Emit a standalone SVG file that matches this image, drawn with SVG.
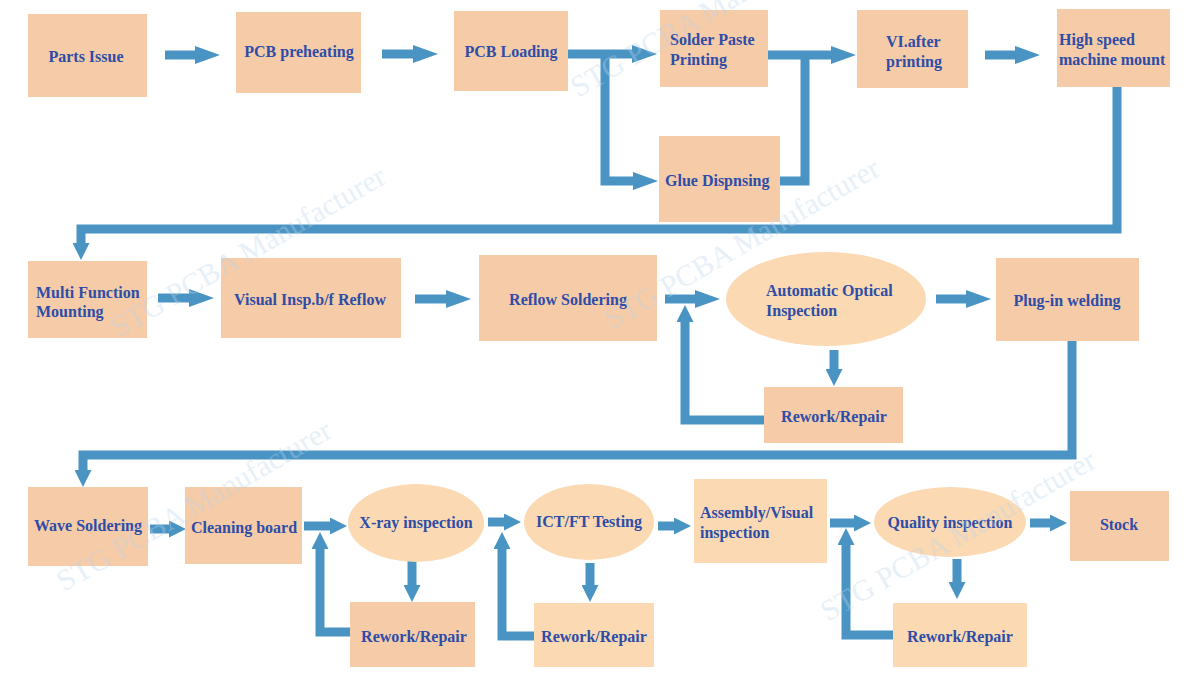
<svg xmlns="http://www.w3.org/2000/svg" width="1200" height="680" viewBox="0 0 1200 680">
<style>
.n{fill:#F6CBA7}
.l{fill:#FAD9B3}
.t{font-family:"Liberation Serif","Times New Roman",serif;font-weight:bold;font-size:16px;fill:#2E4DA7}
.m{text-anchor:middle}
.c{fill:none;stroke:#4A94C4;stroke-width:9;stroke-linejoin:miter}
.w{font-family:"Liberation Serif","Times New Roman",serif;font-size:30px;fill:#BCD6EC;opacity:0.35}
</style>
<defs>
<marker id="a" markerUnits="userSpaceOnUse" markerWidth="25" markerHeight="18" viewBox="0 0 25 18" refX="1" refY="9" orient="auto"><path d="M0,0 L25,9 L0,18 z" fill="#4A94C4"/></marker>
<marker id="b" markerUnits="userSpaceOnUse" markerWidth="17" markerHeight="17" viewBox="0 0 17 17" refX="1" refY="8.5" orient="auto"><path d="M0,0 L17,8.5 L0,17 z" fill="#4A94C4"/></marker>
</defs>
<rect width="1200" height="680" fill="#FFFFFF"/>
<g id="connectors">
<path class="c" d="M165,55 H196" marker-end="url(#a)"/>
<path class="c" d="M382,54 H414" marker-end="url(#a)"/>
<path class="c" d="M568,54 H633" marker-end="url(#a)"/>
<path class="c" d="M605,54 V181 H634" marker-end="url(#a)"/>
<path class="c" d="M768,55 H832" marker-end="url(#a)"/>
<path class="c" d="M780,181 H805 V55"/>
<path class="c" d="M985,55 H1016" marker-end="url(#a)"/>
<path class="c" d="M1117,87 V229 H81 V244" marker-end="url(#b)"/>
<path class="c" d="M158,298 H190" marker-end="url(#a)"/>
<path class="c" d="M415,299 H447" marker-end="url(#a)"/>
<path class="c" d="M665,299 H696" marker-end="url(#a)"/>
<path class="c" d="M764,420 H685 V321" marker-end="url(#b)"/>
<path class="c" d="M834,350 V370" marker-end="url(#b)"/>
<path class="c" d="M936,299 H967" marker-end="url(#a)"/>
<path class="c" d="M1072,341 V455 H83 V471" marker-end="url(#b)"/>
<path class="c" d="M150,529 H170" marker-end="url(#b)"/>
<path class="c" d="M304,526 H331" marker-end="url(#b)"/>
<path class="c" d="M350,632 H320 V548" marker-end="url(#b)"/>
<path class="c" d="M412,560 V586" marker-end="url(#b)"/>
<path class="c" d="M488,522 H505" marker-end="url(#b)"/>
<path class="c" d="M534,636 H502 V548" marker-end="url(#b)"/>
<path class="c" d="M590,563 V586" marker-end="url(#b)"/>
<path class="c" d="M658,526 H675" marker-end="url(#b)"/>
<path class="c" d="M830,523 H855" marker-end="url(#b)"/>
<path class="c" d="M893,635 H846 V544" marker-end="url(#b)"/>
<path class="c" d="M957,559 V583" marker-end="url(#b)"/>
<path class="c" d="M1030,523 H1051" marker-end="url(#b)"/>
</g>
<g id="parts-issue"><rect class="n" x="28" y="14" width="119" height="83"/><text class="t m" x="86" y="62">Parts Issue</text></g>
<g id="pcb-preheating"><rect class="n" x="236" y="12" width="125" height="81"/><text class="t m" x="299" y="57">PCB preheating</text></g>
<g id="pcb-loading"><rect class="n" x="454" y="11" width="114" height="80"/><text class="t m" x="511" y="57">PCB Loading</text></g>
<g id="solder-paste"><rect class="n" x="660" y="10" width="108" height="77"/><text class="t" x="670" y="45">Solder Paste</text><text class="t" x="670" y="65">Printing</text></g>
<g id="glue"><rect class="n" x="659" y="136" width="121" height="86"/><text class="t" x="665" y="186">Glue Dispnsing</text></g>
<g id="vi-after"><rect class="n" x="857" y="10" width="111" height="78"/><text class="t" x="886" y="47">VI.after</text><text class="t" x="886" y="67">printing</text></g>
<g id="high-speed"><rect class="n" x="1057" y="9" width="113" height="78"/><text class="t" x="1059" y="45">High speed</text><text class="t" x="1059" y="65">machine mount</text></g>
<g id="multi-function"><rect class="n" x="28" y="261" width="119" height="77"/><text class="t" x="36" y="298">Multi Function</text><text class="t" x="36" y="317">Mounting</text></g>
<g id="visual-insp"><rect class="n" x="221" y="258" width="180" height="80"/><text class="t m" x="310" y="305">Visual Insp.b/f Reflow</text></g>
<g id="reflow"><rect class="n" x="479" y="255" width="178" height="86"/><text class="t m" x="568" y="305">Reflow Soldering</text></g>
<g id="aoi"><ellipse class="l" cx="826" cy="299" rx="100" ry="47"/><text class="t" x="766" y="296">Automatic Optical</text><text class="t" x="766" y="316">Inspection</text></g>
<g id="rework-1"><rect class="n" x="764" y="387" width="139" height="56"/><text class="t m" x="834" y="422">Rework/Repair</text></g>
<g id="plug-in"><rect class="n" x="996" y="258" width="143" height="83"/><text class="t m" x="1067" y="306">Plug-in welding</text></g>
<g id="wave"><rect class="n" x="28" y="487" width="120" height="79"/><text class="t m" x="88" y="531">Wave Soldering</text></g>
<g id="cleaning"><rect class="n" x="185" y="487" width="117" height="77"/><text class="t m" x="244" y="533">Cleaning board</text></g>
<g id="xray"><ellipse class="l" cx="416" cy="523" rx="68" ry="39"/><text class="t m" x="416" y="528">X-ray inspection</text></g>
<g id="rework-2"><rect class="n" x="350" y="602" width="125" height="65"/><text class="t m" x="414" y="642">Rework/Repair</text></g>
<g id="ict"><ellipse class="l" cx="589" cy="522" rx="65" ry="38"/><text class="t m" x="589" y="527">ICT/FT Testing</text></g>
<g id="rework-3"><rect class="l" x="534" y="603" width="120" height="64"/><text class="t m" x="594" y="642">Rework/Repair</text></g>
<g id="assembly"><rect class="l" x="694" y="479" width="133" height="84"/><text class="t" x="700" y="518">Assembly/Visual</text><text class="t" x="700" y="538">inspection</text></g>
<g id="quality"><ellipse class="l" cx="950" cy="522" rx="76" ry="35"/><text class="t m" x="950" y="528">Quality inspection</text></g>
<g id="rework-4"><rect class="l" x="893" y="603" width="134" height="64"/><text class="t m" x="960" y="642">Rework/Repair</text></g>
<g id="stock"><rect class="n" x="1070" y="491" width="99" height="70"/><text class="t m" x="1119" y="530">Stock</text></g>
<g id="watermarks">
<text class="w" transform="translate(578,98) rotate(-30)">STG PCBA Manufacturer</text>
<text class="w" transform="translate(118,338) rotate(-30)">STG PCBA Manufacturer</text>
<text class="w" transform="translate(612,330) rotate(-30)">STG PCBA Manufacturer</text>
<text class="w" transform="translate(64,592) rotate(-30)">STG PCBA Manufacturer</text>
<text class="w" transform="translate(828,622) rotate(-30)">STG PCBA Manufacturer</text>
</g>
</svg>
